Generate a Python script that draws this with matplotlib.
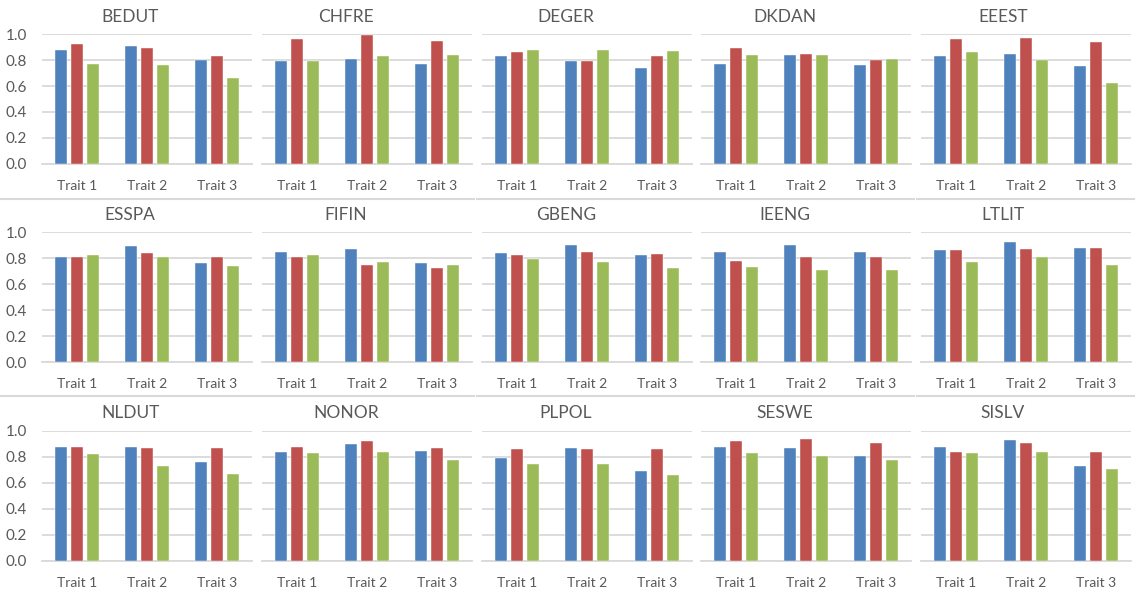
import numpy as np
import matplotlib.pyplot as plt
from matplotlib.lines import Line2D

plt.rcParams['font.family'] = ['Lato', 'DejaVu Sans']

countries = ["BEDUT", "CHFRE", "DEGER", "DKDAN", "EEEST",
             "ESSPA", "FIFIN", "GBENG", "IEENG", "LTLIT",
             "NLDUT", "NONOR", "PLPOL", "SESWE", "SISLV"]
traits = ["Trait 1", "Trait 2", "Trait 3"]

# one row per country, values for Trait 1..3
blue_vals = [
    [0.88, 0.91, 0.80], [0.79, 0.81, 0.77], [0.83, 0.79, 0.74], [0.77, 0.84, 0.76], [0.83, 0.85, 0.75],
    [0.81, 0.89, 0.76], [0.85, 0.87, 0.76], [0.84, 0.90, 0.82], [0.85, 0.90, 0.85], [0.86, 0.92, 0.88],
    [0.88, 0.88, 0.76], [0.84, 0.90, 0.85], [0.79, 0.87, 0.69], [0.88, 0.87, 0.81], [0.88, 0.93, 0.73],
]
red_vals = [
    [0.92, 0.89, 0.83], [0.96, 0.99, 0.95], [0.86, 0.79, 0.83], [0.89, 0.85, 0.80], [0.96, 0.97, 0.94],
    [0.81, 0.84, 0.81], [0.81, 0.75, 0.72], [0.82, 0.85, 0.83], [0.78, 0.81, 0.81], [0.86, 0.87, 0.88],
    [0.88, 0.87, 0.87], [0.88, 0.92, 0.87], [0.86, 0.86, 0.86], [0.92, 0.94, 0.91], [0.84, 0.91, 0.84],
]
green_vals = [
    [0.77, 0.76, 0.66], [0.79, 0.83, 0.84], [0.88, 0.88, 0.87], [0.84, 0.84, 0.81], [0.86, 0.80, 0.62],
    [0.82, 0.81, 0.74], [0.82, 0.77, 0.75], [0.79, 0.77, 0.72], [0.73, 0.71, 0.71], [0.77, 0.81, 0.75],
    [0.82, 0.73, 0.67], [0.83, 0.84, 0.78], [0.75, 0.75, 0.66], [0.83, 0.81, 0.78], [0.83, 0.84, 0.71],
]

colors = ["#4F81BD", "#C0504D", "#9BBB59"]
text_col = "#595959"
grid_col = "#D9D9D9"

W, H = 1135, 592
fig = plt.figure(figsize=(W / 100, H / 100), dpi=100)

# plot area positions in pixels
col_left = [42, 262, 482, 701, 921]
row_top = [34, 232, 431]
pw, ph = 210, 130
title_x = [0.42, 0.40, 0.40, 0.40, 0.39]

x = np.arange(len(traits))
bw = 0.165
step = 0.225

for i, name in enumerate(countries):
    r, c = divmod(i, 5)
    ax = fig.add_axes([col_left[c] / W, 1 - (row_top[r] + ph) / H, pw / W, ph / H])
    series = [blue_vals[i], red_vals[i], green_vals[i]]
    for k, vals in enumerate(series):
        ax.bar(x + (k - 1) * step, vals, bw, color=colors[k],
               edgecolor="white", linewidth=0.3, zorder=3)
    ax.set_ylim(0, 1.0)
    ax.set_xlim(-0.5, 2.5)
    ax.set_yticks(np.arange(0, 1.01, 0.2))
    ax.yaxis.grid(True, color=grid_col, linewidth=1.3, zorder=0)
    ax.set_xticks(x)
    ax.set_xticklabels(traits)
    ax.tick_params(length=0, colors=text_col, labelsize=10)
    ax.tick_params(axis="x", pad=11.5)
    ax.tick_params(axis="y", pad=11)
    if c == 0:
        ax.set_yticklabels([f"{v:.1f}" for v in np.arange(0, 1.01, 0.2)], fontsize=11)
    else:
        ax.set_yticklabels([])
    for s in ["top", "right", "left"]:
        ax.spines[s].set_visible(False)
    ax.spines["bottom"].set_color(grid_col)
    ax.spines["bottom"].set_linewidth(1.3)
    ax.set_title(name, x=title_x[c], pad=9, color=text_col, fontsize=12.5)

# light borders under chart rows
seg = [(0, 256), (258, 474), (477, 695), (697, 914), (917, 1135)]
for y in [199, 396]:
    for a, b in seg:
        fig.add_artist(Line2D([a / W, b / W], [1 - y / H, 1 - y / H],
                              color=grid_col, linewidth=1.5))

fig.savefig("out.png", dpi=100)
